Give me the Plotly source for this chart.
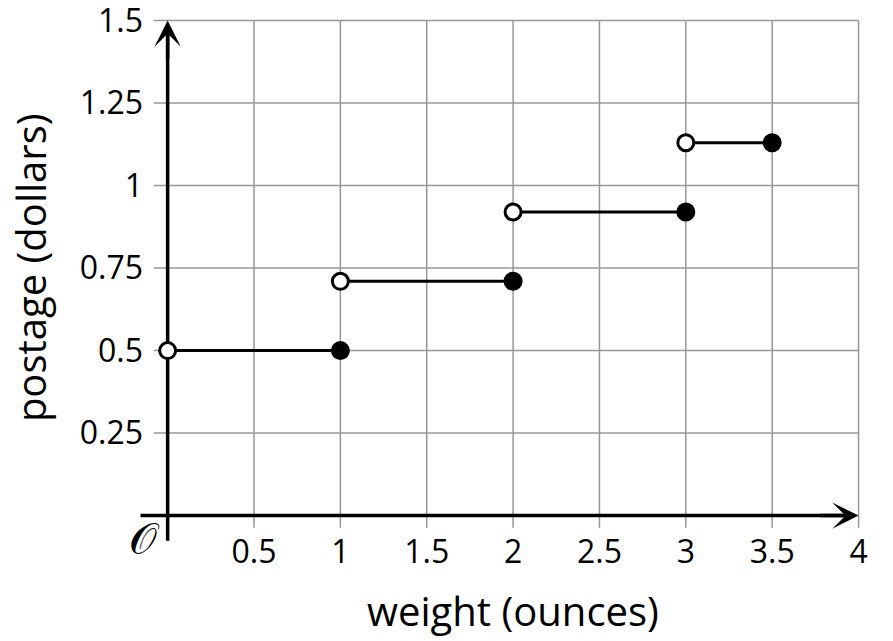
import plotly.graph_objects as go

# postage steps: each piece runs from an open left end to a closed right end
seg_start = [0, 1, 2, 3]
seg_end = [1, 2, 3, 3.5]
postage = [0.5, 0.71, 0.92, 1.13]

x_ticks = [0.5, 1, 1.5, 2, 2.5, 3, 3.5, 4]
x_labels = ["0.5", "1", "1.5", "2", "2.5", "3", "3.5", "4"]
y_ticks = [0.25, 0.5, 0.75, 1, 1.25, 1.5]
y_labels = ["0.25", "0.5", "0.75", "1", "1.25", "1.5"]

FONT = "Open Sans"
GRID = "#989898"

fig = go.Figure()

# step segments
for x0, x1, y in zip(seg_start, seg_end, postage):
    fig.add_trace(go.Scatter(
        x=[x0, x1], y=[y, y], mode="lines",
        line=dict(color="black", width=3), hoverinfo="skip", showlegend=False
    ))

# closed ends
fig.add_trace(go.Scatter(
    x=seg_end, y=postage, mode="markers",
    marker=dict(symbol="circle", size=19, color="black", line=dict(width=0)),
    showlegend=False
))

# open ends
fig.add_trace(go.Scatter(
    x=seg_start, y=postage, mode="markers",
    marker=dict(symbol="circle", size=16, color="white", line=dict(color="black", width=3)),
    showlegend=False
))

shapes = []
for yv in y_ticks:
    shapes.append(dict(type="line", xref="x", yref="y", x0=-0.08, x1=4, y0=yv, y1=yv,
                       line=dict(color=GRID, width=1.5), layer="below"))
for xv in x_ticks:
    shapes.append(dict(type="line", xref="x", yref="y", x0=xv, x1=xv, y0=-0.037, y1=1.5,
                       line=dict(color=GRID, width=1.5), layer="below"))
# axis lines
shapes.append(dict(type="line", xref="x", yref="y", x0=-0.157, x1=3.95, y0=0, y1=0,
                   line=dict(color="black", width=3.5), layer="below"))
shapes.append(dict(type="line", xref="x", yref="y", x0=0, x1=0, y0=-0.076, y1=1.47,
                   line=dict(color="black", width=3.5), layer="below"))

annotations = [
    # arrow heads
    dict(x=4, y=0, xref="x", yref="y", ax=-40, ay=0, text="", showarrow=True,
         arrowhead=3, arrowsize=1.25, arrowwidth=3.5, arrowcolor="black"),
    dict(x=0, y=1.5, xref="x", yref="y", ax=0, ay=40, text="", showarrow=True,
         arrowhead=3, arrowsize=1.25, arrowwidth=3.5, arrowcolor="black"),
    # origin
    dict(x=0, y=0, xref="x", yref="y", text="𝒪", showarrow=False,
         xanchor="right", yanchor="top", xshift=-6, yshift=5,
         font=dict(family="DejaVu Serif", size=44, color="black")),
    # axis titles
    dict(x=2, y=0, xref="x", yref="paper", yanchor="middle", yshift=-68,
         text="weight (ounces)", showarrow=False,
         font=dict(family=FONT, size=40, color="black")),
    dict(x=0, y=0.75, xref="paper", yref="y", xanchor="center", xshift=-110,
         text="postage (dollars)", textangle=-90, showarrow=False,
         font=dict(family=FONT, size=40, color="black")),
]

fig.update_layout(
    width=885, height=633,
    margin=dict(l=132, r=31, t=6, b=99, autoexpand=False),
    plot_bgcolor="white", paper_bgcolor="white",
    showlegend=False,
    shapes=shapes,
    annotations=annotations,
    xaxis=dict(range=[-0.16, 4.02], showgrid=False, zeroline=False, showline=False,
               tickmode="array", tickvals=x_ticks, ticktext=x_labels, ticks="",
               tickfont=dict(family=FONT, size=32, color="black"), ticklabelstandoff=-12,
               automargin=False),
    yaxis=dict(range=[-0.08, 1.52], showgrid=False, zeroline=False, showline=False,
               tickmode="array", tickvals=y_ticks, ticktext=y_labels, ticks="",
               tickfont=dict(family=FONT, size=32, color="black"), ticklabelstandoff=-4,
               ticklabeloverflow="allow", automargin=False),
)

fig.write_html("out.html")
